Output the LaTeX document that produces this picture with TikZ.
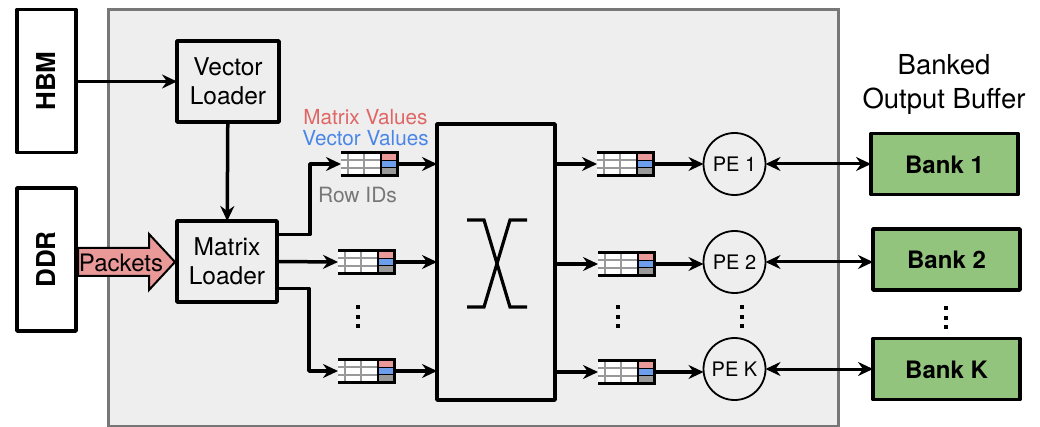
\documentclass[tikz,border=0pt]{standalone}
\usepackage{fontspec}
\setmainfont{TeX Gyre Heros}
\usetikzlibrary{arrows.meta}
\definecolor{chipgray}{HTML}{EEEEEE}
\definecolor{framegray}{HTML}{777777}
\definecolor{bankgreen}{HTML}{93C47D}
\definecolor{valred}{HTML}{EA9999}
\definecolor{valblue}{HTML}{6D9EEB}
\definecolor{idgray}{HTML}{999999}
\definecolor{matrixtext}{HTML}{E06666}
\definecolor{vectortext}{HTML}{4A86E8}
\tikzset{
  blockbox/.style={draw=black,line width=3.5pt,line join=round,inner sep=0pt,outer sep=0pt,align=center},
  membox/.style={blockbox,fill=white,font=\fontsize{26}{30}\selectfont\bfseries},
  loadbox/.style={blockbox,fill=chipgray,font=\fontsize{24.5}{29}\selectfont},
  bankbox/.style={blockbox,fill=bankgreen,minimum width=147pt,minimum height=61pt,text height=19pt,text depth=0pt,font=\fontsize{24}{28}\selectfont\bfseries},
  pecircle/.style={circle,draw=black,line width=1.8pt,fill=chipgray,minimum size=62pt,inner sep=0pt,outer sep=0pt,font=\fontsize{20}{24}\selectfont},
  fifobox/.style={inner sep=0pt,outer sep=0pt,minimum width=56pt,minimum height=23pt},
  wire/.style={line width=3.5pt,line join=round,-{Stealth[length=15pt,width=14pt,inset=5pt]}},
  biwire/.style={line width=3pt,{Stealth[length=15pt,width=14pt,inset=5pt]}-{Stealth[length=15pt,width=14pt,inset=5pt]}},
  legend/.style={inner sep=0pt,font=\fontsize{20.7}{24}\selectfont},
}
% one small queue: grid on the left, three value slots on the right
\newcommand{\fifo}[3]{%
  \node[fifobox] (#1) at (#2,#3) {};
  \fill[white] (#1.north west) rectangle (#1.south east);
  \foreach \yo in {-4,4} \draw[idgray,line width=2pt] ([yshift=\yo pt]#1.west) -- ++(40,0);
  \foreach \xo in {7,23} \draw[idgray,line width=2pt] ([xshift=\xo pt]#1.north west) -- ([xshift=\xo pt]#1.south west);
  \fill[valred] ([xshift=-16pt]#1.north east) rectangle ([yshift=-7.67pt]#1.north east);
  \fill[valblue] ([xshift=-16pt,yshift=-7.67pt]#1.north east) rectangle ([yshift=-15.33pt]#1.north east);
  \fill[idgray] ([xshift=-16pt,yshift=-15.33pt]#1.north east) rectangle (#1.south east);
  \draw[line width=1.2pt] ([xshift=-16pt,yshift=-7.67pt]#1.north east) -- ++(16,0);
  \draw[line width=1.2pt] ([xshift=-16pt,yshift=-15.33pt]#1.north east) -- ++(16,0);
  \draw[line width=1.5pt] ([xshift=-16pt]#1.north east) -- ([xshift=-16pt]#1.south east);
  \draw[line width=3pt] (#1.north west) -- (#1.north east) -- (#1.south east) -- (#1.south west);
}
% three dots in a column
\newcommand{\vdotted}[2]{%
  \foreach \yo in {0,9.5,19} \fill (#1-2,#2+\yo-2) rectangle ++(4,4);
}
\begin{document}
\begin{tikzpicture}[x=1pt,y=-1pt]
\useasboundingbox (0,0) rectangle (1040,427);
\draw[draw=framegray,fill=chipgray,line width=3pt] (108,10) rectangle (838,426);
% memories
\node[membox,minimum width=59pt,minimum height=143pt] (hbm) at (46.5,81) {\rotatebox{90}{HBM}};
\node[membox,minimum width=59pt,minimum height=143pt] (ddr) at (46.5,259.5) {\rotatebox{90}{DDR}};
% loaders
\node[loadbox,minimum width=102pt,minimum height=81pt] (vecload) at (228,81.5) {Vector\\Loader};
\node[loadbox,minimum width=100pt,minimum height=81pt] (matload) at (227,261.5) {Matrix\\Loader};
% packets arrow
\draw[draw=black,fill=valred,line width=2pt,line join=miter] (78,248) -- (149,248) -- (149,234) -- (175,262) -- (149,290) -- (149,276) -- (78,276) -- cycle;
\node[inner sep=0pt,font=\fontsize{24}{28}\selectfont] (packets) at (121,263) {Packets};
% crossbar
\node[loadbox,minimum width=118pt,minimum height=276pt] (xbar) at (496,262) {};
\draw[line width=3.2pt] (467,220) -- (484,220) -- (510,307) -- (527,307);
\draw[line width=3.2pt] (527,220) -- (510,220) -- (484,307) -- (467,307);
% queues
\fifo{qina}{369}{164}
\fifo{qinb}{366}{262}
\fifo{qink}{366}{371}
\fifo{qouta}{625}{164}
\fifo{qoutb}{626}{264}
\fifo{qoutk}{626}{372}
% processing elements
\node[pecircle] (pea) at (734.5,164) {PE 1};
\node[pecircle] (peb) at (734.5,262) {PE 2};
\node[pecircle] (pek) at (734.5,369) {PE K};
% output banks
\node[bankbox] (banka) at (944.5,164) {Bank 1};
\node[bankbox] (bankb) at (946.5,259.5) {Bank 2};
\node[bankbox] (bankk) at (946.5,369) {Bank K};
\node[align=center,inner sep=0pt,font=\fontsize{27.5}{34}\selectfont] (bufname) at (944,84) {Banked\\Output Buffer};
% labels at the first queue
\node[legend,text=matrixtext] (matval) at (365.5,117) {Matrix Values};
\node[legend,text=vectortext] (vecval) at (365.5,138) {Vector Values};
\node[legend,text=framegray,font=\fontsize{21}{24}\selectfont] (rowid) at (357.5,195) {Row IDs};
% wires
\draw[wire] (vecload.west -| hbm.east) -- (vecload.west);
\draw[wire] (vecload) -- (matload);
\draw[wire] ([yshift=27pt]matload.east) -- (310,234.5) -- (310,164) -- (qina.west);
\draw[wire] (matload.east) -- (qinb.west);
\draw[wire] ([yshift=-27pt]matload.east) -- (309,288.5) -- (309,371) -- (qink.west);
\draw[wire] (qina.east) -- (qina.east -| xbar.west);
\draw[wire] (qinb.east) -- (qinb.east -| xbar.west);
\draw[wire] (qink.east) -- (qink.east -| xbar.west);
\draw[wire] (qouta.west -| xbar.east) -- (qouta.west);
\draw[wire] (qoutb.west -| xbar.east) -- (qoutb.west);
\draw[wire] (qoutk.west -| xbar.east) -- (qoutk.west);
\draw[wire] (qouta.east) -- (qouta.east -| pea.west);
\draw[wire] (qoutb.east) -- (qoutb.east -| peb.west);
\draw[wire] (qoutk.east) -- (qoutk.east -| pek.west);
\draw[biwire] (pea.east) -- (pea.east -| banka.west);
\draw[biwire] (peb.east) -- (peb.east -| bankb.west);
\draw[biwire] (pek.east) -- (pek.east -| bankk.west);
% dots
\vdotted{358}{307}
\vdotted{618}{307}
\vdotted{742}{307}
\vdotted{946}{308}
\end{tikzpicture}
\end{document}
